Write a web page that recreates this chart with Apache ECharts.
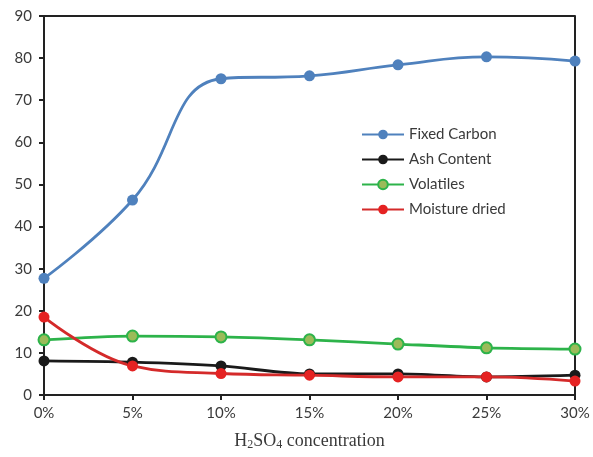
<!DOCTYPE html>
<html>
<head>
<meta charset="utf-8">
<script src="https://cdn.jsdelivr.net/npm/echarts@6/dist/echarts.min.js"></script>
<style>
html, body { margin: 0; padding: 0; background: #fff; }
#chart { width: 593px; height: 457px; }
</style>
</head>
<body>
<div id="chart"></div>
<script>
var categories = ['0%', '5%', '10%', '15%', '20%', '25%', '30%'];
var fixedCarbon = [27.7, 46.3, 75.1, 75.8, 78.4, 80.3, 79.3];
var ashContent = [8.1, 7.8, 6.9, 5.0, 5.0, 4.3, 4.7];
var volatiles = [13.1, 14.0, 13.8, 13.1, 12.1, 11.2, 10.9];
var moisture = [18.5, 6.9, 5.1, 4.7, 4.3, 4.3, 3.3];

var chart = echarts.init(document.getElementById('chart'));

function makeSeries(name, data, lineColor, dotColor, dotBorder, smooth) {
	return {
		name : name,
		type : 'line',
		data : data,
		smooth : smooth,
		symbol : 'circle',
		symbolSize : 11,
		lineStyle : { color : lineColor, width : 2.8 },
		itemStyle : { color : dotColor, borderColor : dotBorder, borderWidth : dotBorder ? 2 : 0 }
	};
}

var option = {
	animation : false,
	textStyle : { fontFamily : 'Lato' },
	grid : { left : 44, right : 18, top : 16, bottom : 62, containLabel : false, outerBoundsMode : 'none' },
	legend : {
		orient : 'vertical',
		left : 356,
		top : 122,
		itemWidth : 42,
		itemHeight : 12,
		itemGap : 10,
		textStyle : { fontSize : 15, color : '#3a3a3a', fontFamily : 'Lato' },
		data : ['Fixed Carbon', 'Ash Content', 'Volatiles', 'Moisture dried']
	},
	xAxis : {
		type : 'category',
		data : categories,
		boundaryGap : false,
		axisLine : { lineStyle : { color : '#222', width : 2 } },
		axisTick : { show : true, alignWithLabel : true, length : 5, lineStyle : { color : '#222', width : 2 } },
		axisLabel : { fontSize : 15, color : '#3a3a3a', margin : 11 },
		name : '{n|H}{s|2}{n|SO}{s|4}{n| concentration}',
		nameLocation : 'middle',
		nameGap : 36,
		nameTextStyle : {
			rich : {
				n : { fontFamily : 'Liberation Serif', fontSize : 18, color : '#3a3a3a' },
				s : { fontFamily : 'Liberation Serif', fontSize : 12, color : '#3a3a3a', verticalAlign : 'bottom', padding : [8, 0, 0, 0] }
			}
		}
	},
	yAxis : [{
		type : 'value',
		min : 0,
		max : 90,
		interval : 10,
		axisLine : { show : true, lineStyle : { color : '#222', width : 2 } },
		axisTick : { show : true, length : 5, lineStyle : { color : '#222', width : 2 } },
		axisLabel : { fontSize : 15, color : '#3a3a3a', margin : 12 },
		splitLine : { show : false }
	}, {
		type : 'value',
		min : 0,
		max : 90,
		interval : 10,
		position : 'right',
		axisLine : { show : true, lineStyle : { color : '#222', width : 2 } },
		axisTick : { show : false },
		axisLabel : { show : false },
		splitLine : { show : false }
	}],
	graphic : [{
		type : 'line',
		shape : { x1 : 44, y1 : 16, x2 : 575, y2 : 16 },
		style : { stroke : '#222', lineWidth : 2 }
	}],
	series : [
		makeSeries('Fixed Carbon', fixedCarbon, '#4F81BD', '#4F81BD', null, 0.45),
		makeSeries('Ash Content', ashContent, '#1a1a1a', '#1a1a1a', null, 0.3),
		makeSeries('Volatiles', volatiles, '#2DB34A', '#9BBB59', '#2DB34A', 0.3),
		makeSeries('Moisture dried', moisture, '#D42A2A', '#E52222', null, 0.4)
	]
};
chart.setOption(option, true);
</script>
</body>
</html>
